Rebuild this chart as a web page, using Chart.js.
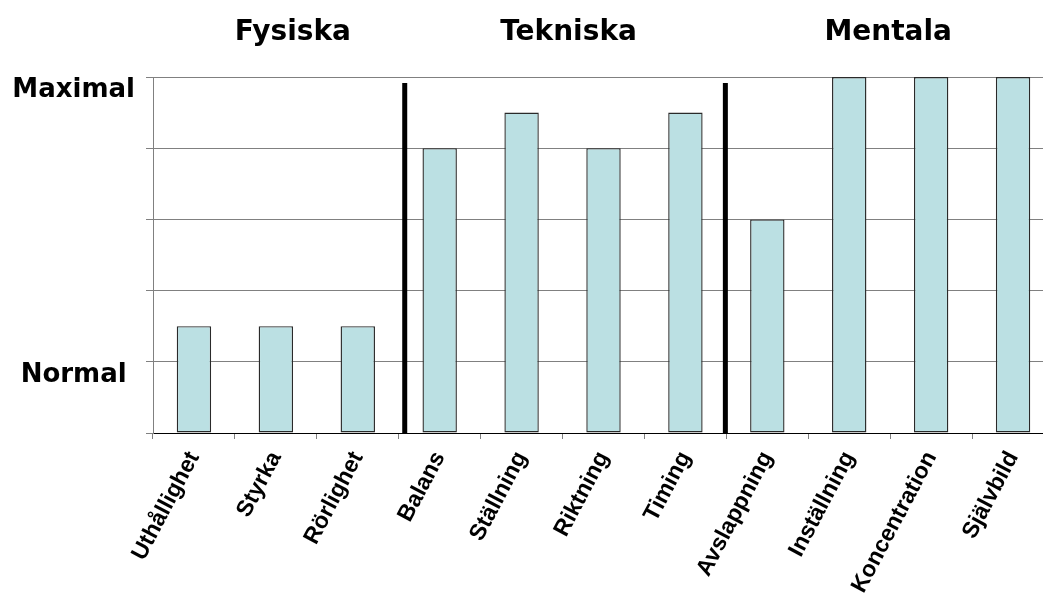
<!DOCTYPE html>
<html>
<head>
<meta charset="utf-8">
<script src="https://cdn.jsdelivr.net/npm/chart.js@4"></script>
<style>
  html, body { margin: 0; padding: 0; background: #fff; overflow: hidden; }
  #wrap { position: relative; width: 1070px; height: 594px; }
</style>
</head>
<body>
<div id="wrap"><canvas id="c"></canvas></div>
<script>
// ---- data ----
const categories = ['Uthållighet', 'Styrka', 'Rörlighet', 'Balans', 'Ställning', 'Riktning', 'Timing',
                    'Avslappning', 'Inställning', 'Koncentration', 'Självbild'];
const values = [1.5, 1.5, 1.5, 4, 4.5, 4, 4.5, 3, 5, 5, 5];
const yLabelValues = [1, 5];
const yLabelTexts = ['Normal', 'Maximal'];
const groupTitles = ['Fysiska', 'Tekniska', 'Mentala'];
const groupStarts = [0, 3, 7];
const groupEnds = [2, 6, 10];

const comic = "'Comic Sans MS', 'DejaVu Sans', sans-serif";

const groupPlugin = {
  id: 'groups',
  afterDatasetsDraw(chart, args, opts) {
    const ctx = chart.ctx;
    const x = chart.scales.x;
    const area = chart.chartArea;
    ctx.save();
    ctx.strokeStyle = '#000';
    ctx.lineWidth = 5;
    groupStarts.forEach((s, i) => {
      if (s === 0) return;
      const px = (x.getPixelForValue(s - 1) + x.getPixelForValue(s)) / 2 + (opts.dividerOffsets[i] || 0);
      ctx.beginPath();
      ctx.moveTo(px, area.bottom);
      ctx.lineTo(px, area.top + 6);
      ctx.stroke();
    });
    ctx.fillStyle = '#000';
    ctx.font = "bold 28px " + comic;
    ctx.textAlign = 'center';
    ctx.textBaseline = 'middle';
    groupTitles.forEach((t, i) => {
      const cx = (x.getPixelForValue(groupStarts[i]) + x.getPixelForValue(groupEnds[i])) / 2 + opts.titleOffsets[i];
      ctx.fillText(t, cx, opts.titleY);
    });
    ctx.restore();
  }
};

new Chart(document.getElementById('c'), {
  type: 'bar',
  data: {
    labels: categories,
    datasets: [{
      data: values,
      backgroundColor: '#bbe0e3',
      borderColor: '#2a2a2a',
      borderWidth: 1.4,
      borderSkipped: false,
      categoryPercentage: 1,
      barPercentage: 0.42
    }]
  },
  options: {
    responsive: true,
    maintainAspectRatio: false,
    animation: false,
    devicePixelRatio: 1,
    layout: { padding: { top: 77, right: 16, left: 0, bottom: 0 } },
    plugins: {
      legend: { display: false },
      tooltip: { enabled: false },
      groups: { titleOffsets: [17, 6, -2], dividerOffsets: [0, 6, -1], titleY: 33 }
    },
    scales: {
      x: {
        offset: true,
        afterFit(scale) { scale.height = 161; },
        grid: {
          offset: true,
          drawOnChartArea: false,
          drawTicks: true,
          tickLength: 6,
          color: '#808080',
          lineWidth: 1
        },
        border: { display: true, color: '#000', width: 1 },
        ticks: {
          autoSkip: false,
          minRotation: 62,
          maxRotation: 62,
          padding: 8,
          color: '#000',
          font: { family: "'Liberation Sans', Arial, sans-serif", size: 23, weight: 'bold' }
        }
      },
      y: {
        min: 0,
        max: 5,
        afterFit(scale) { scale.width = 153; },
        afterBuildTicks(scale) {
          scale.ticks = [0, 1, 2, 3, 4, 5].map(v => ({ value: v }));
        },
        grid: {
          color: '#808080',
          lineWidth: 1,
          tickLength: 7,
          drawTicks: true
        },
        border: { display: true, color: '#808080', width: 1 },
        ticks: {
          padding: 11,
          crossAlign: 'center',
          color: '#000',
          font: { family: comic, size: 26, weight: 'bold', lineHeight: 1 },
          callback(v) {
            const i = yLabelValues.indexOf(v);
            return i >= 0 ? ['', yLabelTexts[i]] : '';
          }
        }
      }
    }
  },
  plugins: [groupPlugin]
});
</script>
</body>
</html>
